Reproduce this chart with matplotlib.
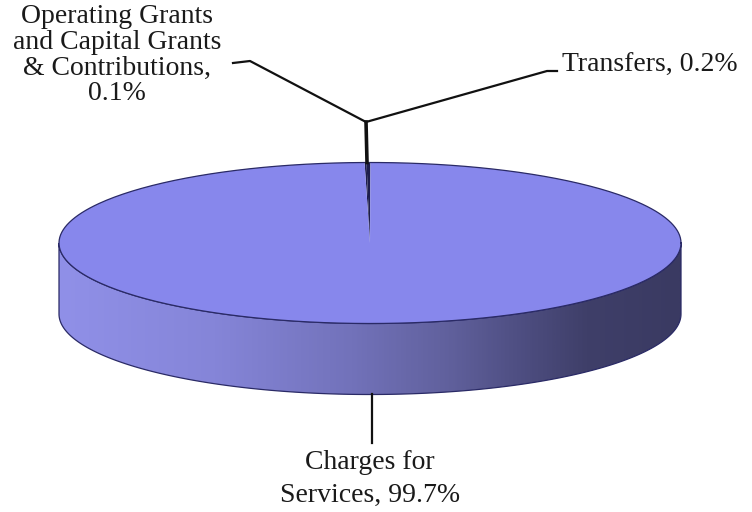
import numpy as np
import matplotlib
matplotlib.use('Agg')
import matplotlib.pyplot as plt
from matplotlib.colors import LinearSegmentedColormap
from matplotlib.patches import Polygon

# slices in clockwise order starting just left of 12 o'clock
labels = ['Operating Grants\nand Capital Grants\n& Contributions,\n0.1%',
          'Transfers, 0.2%',
          'Charges for\nServices, 99.7%']
shares = [0.1, 0.2, 99.7]
top_colors = ['#1e1e4c', '#1e1e4c', '#8787ec']

cx, cy = 370.0, 243.0      # centre of the top face (pixels)
rx, ry = 311.0, 80.5       # ellipse radii
depth = 71.0               # thickness of the disc
start = 91.0               # degrees

side_cmap = LinearSegmentedColormap.from_list('side', [
    (0.00, '#9090e8'), (0.25, '#8585d8'), (0.47, '#7272ba'),
    (0.63, '#60609c'), (0.75, '#4d4d80'), (0.85, '#3f3f69'), (1.00, '#3a3a62')])


def rim(theta, dy=0.0):
    t = np.radians(theta)
    return np.column_stack([cx + rx * np.cos(t), cy - ry * np.sin(t) + dy])


fig = plt.figure(figsize=(7.52, 5.12), dpi=100)
ax = fig.add_axes([0, 0, 1, 1])
ax.set_xlim(0, 752)
ax.set_ylim(512, 0)
ax.axis('off')

# side wall (front half only)
front = np.linspace(180, 360, 200)
side = np.vstack([rim(front), rim(front[::-1], depth)])
wall = Polygon(side, closed=True, facecolor='none', edgecolor='#2a2a66', lw=0.9, zorder=2)
ax.add_patch(wall)
grad = np.linspace(0, 1, 400).reshape(1, -1)
im = ax.imshow(grad, cmap=side_cmap, aspect='auto',
               extent=(cx - rx, cx + rx, cy + ry + depth + 2, cy - 2), zorder=1)
im.set_clip_path(wall)

# top face wedges
bounds = start - 360.0 * np.concatenate([[0], np.cumsum(shares)]) / 100.0
mids = []
for i, share in enumerate(shares):
    a0, a1 = bounds[i], bounds[i + 1]
    arc = rim(np.linspace(a0, a1, max(3, int(abs(a0 - a1) * 2))))
    pts = np.vstack([[cx, cy], arc])
    ax.add_patch(Polygon(pts, closed=True, facecolor=top_colors[i],
                         edgecolor='none', zorder=3))
    mids.append((a0 + a1) / 2.0)
ax.plot(*rim(np.linspace(0, 360, 400)).T, color='#2a2a66', lw=0.9, zorder=4)

# leader lines and labels
txt = dict(family='Liberation Serif', fontsize=20, color='#1a1a1a')
small = rim(np.array(mids[:2]))
px = small[:, 0].mean()
py = small[:, 1].mean()
ax.plot([px, px - 1], [py, 122], color='#111111', lw=2.6, zorder=5)
ax.plot([px - 1, 250, 233], [122, 61, 63], color='#111111', lw=1.6, zorder=5)
ax.text(117, 55, labels[0], ha='center', va='center', linespacing=1.05, **txt)

ax.plot([px - 1, 547, 557], [122, 71, 71], color='#111111', lw=1.6, zorder=5)
ax.text(562, 72, labels[1], ha='left', va='baseline', **txt)

p = rim(mids[2], depth)[0]
ax.plot([p[0], p[0]], [p[1], 443], color='#111111', lw=1.6, zorder=5)
ax.text(370, 479, labels[2], ha='center', va='center', linespacing=1.45, **txt)

fig.savefig('out.png', dpi=100, facecolor='white')
